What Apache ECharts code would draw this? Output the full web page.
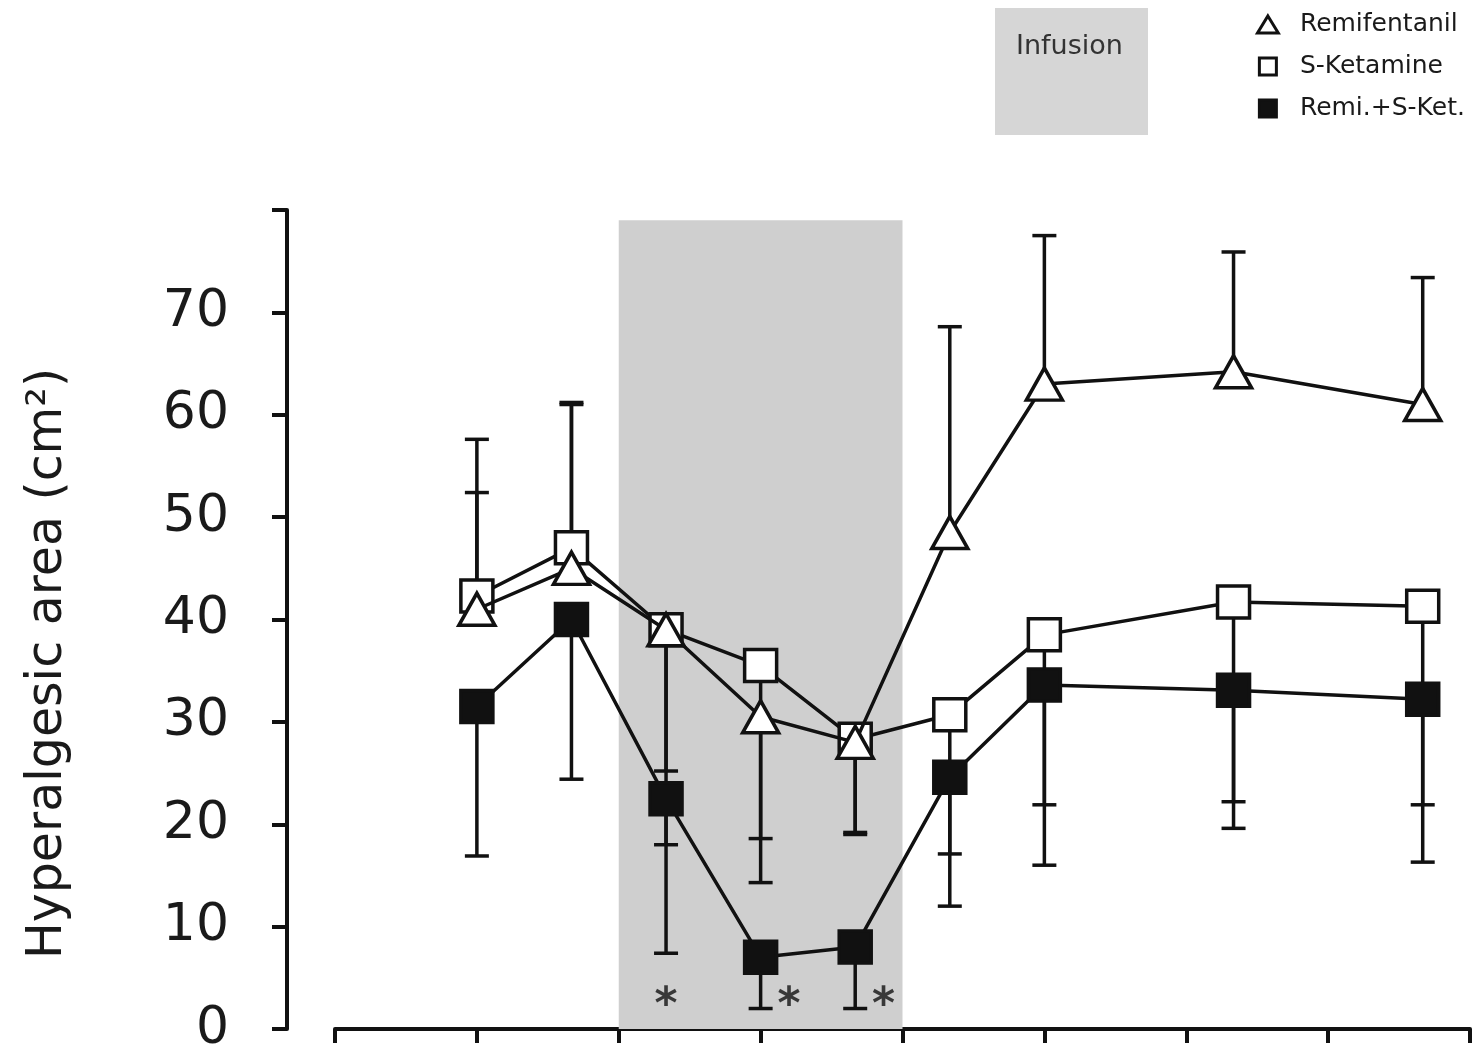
<!DOCTYPE html>
<html>
<head>
<meta charset="utf-8">
<script src="https://cdn.jsdelivr.net/npm/echarts@6/dist/echarts.min.js"></script>
<style>
html,body{margin:0;padding:0;background:#fff;}
#chart{width:1476px;height:1055px;}
</style>
</head>
<body>
<div id="chart"></div>
<script>
// ---- data ----
const times = [0, 20, 40, 60, 80, 100, 120, 160, 200];
const remi = [41, 45, 39, 30.5, 28, 48.5, 63, 64.2, 61];
const sket = [42.3, 47, 39, 35.5, 28.3, 30.7, 38.5, 41.7, 41.3];
const combo = [31.5, 40, 22.5, 7, 8, 24.6, 33.6, 33.1, 32.2];
const remiErrEnd = [57.6, 61.2, 18, 14.3, 19, 68.6, 77.5, 75.9, 73.4];
const sketErrEnd = [52.4, 61, 25.2, 18.6, 19.2, 17.1, 21.9, 22.2, 21.9];
const comboErrEnd = [16.9, 24.4, 7.4, 2, 2, 12, 16, 19.6, 16.3];
const infusionStart = 30, infusionEnd = 90, infusionTop = 79;
const asteriskTimes = [40, 66, 86];
const asteriskLevel = 3;
const yTicks = [0, 10, 20, 30, 40, 50, 60, 70];
const seriesNames = ['Remifentanil', 'S-Ketamine', 'Remi.+S-Ket.'];

const FONT = 'DejaVu Sans';
const chart = echarts.init(document.getElementById('chart'));

function pts(vals) { return times.map((t, i) => [t, vals[i]]); }
function errData(vals, ends) { return times.map((t, i) => [t, vals[i], ends[i]]); }

function errSeries(name, vals, ends) {
  return {
    name: name + ' err',
    type: 'custom',
    z: 1,
    silent: true,
    data: errData(vals, ends),
    renderItem: function (params, api) {
      const x = api.value(0);
      const p0 = api.coord([x, api.value(1)]);
      const p1 = api.coord([x, api.value(2)]);
      const hw = 12;
      const st = { stroke: '#111', lineWidth: 3.5 };
      return {
        type: 'group',
        children: [
          { type: 'line', shape: { x1: p0[0], y1: p0[1], x2: p1[0], y2: p1[1] }, style: st },
          { type: 'line', shape: { x1: p1[0] - hw, y1: p1[1], x2: p1[0] + hw, y2: p1[1] }, style: st }
        ]
      };
    }
  };
}

function lineSeries(name, vals, symbol, size, fill, z) {
  return {
    name: name,
    type: 'line',
    z: z,
    data: pts(vals),
    symbol: symbol,
    symbolSize: size,
    showAllSymbol: true,
    lineStyle: { color: '#111', width: 3.5 },
    itemStyle: { color: fill, borderColor: '#111', borderWidth: 3.5, opacity: 1 },
    emphasis: { disabled: true }
  };
}

const remiLine = lineSeries(seriesNames[0], remi, 'triangle', [36, 32], '#fff', 4);
remiLine.markArea = {
  silent: true,
  itemStyle: { color: '#cfcfcf' },
  data: [[{ xAxis: infusionStart, yAxis: 0 }, { xAxis: infusionEnd, yAxis: infusionTop }]]
};

const triIcon = 'path://M11,0L22,18L0,18Z';
const sqIcon = 'path://M0,0L16,0L16,16L0,16Z';

const option = {
  backgroundColor: '#fff',
  animation: false,
  grid: { left: 335, right: 6, top: 210, bottom: 25, containLabel: false },
  xAxis: {
    type: 'value', min: -30, max: 210, interval: 30,
    axisLine: { lineStyle: { color: '#111', width: 4 } },
    axisTick: { show: true, length: 14, lineStyle: { color: '#111', width: 4 } },
    axisLabel: { show: false },
    splitLine: { show: false }
  },
  yAxis: {
    type: 'value', min: 0, max: 80, interval: 10, offset: 48,
    name: 'Hyperalgesic area (cm²)',
    nameLocation: 'middle', nameGap: 214,
    nameTextStyle: { fontFamily: FONT, fontSize: 49, color: '#1a1a1a', padding: [0, 88, 0, 0] },
    axisLine: { show: true, onZero: false, lineStyle: { color: '#111', width: 4 } },
    axisTick: { show: true, length: 15, lineStyle: { color: '#111', width: 4 } },
    axisLabel: {
      fontFamily: FONT, fontSize: 52, color: '#1a1a1a', margin: 58,
      formatter: v => yTicks.indexOf(v) >= 0 ? String(v) : ''
    },
    splitLine: { show: false }
  },
  legend: {
    data: [
      { name: seriesNames[0], icon: triIcon },
      { name: seriesNames[1], icon: sqIcon },
      { name: seriesNames[2], icon: sqIcon }
    ],
    orient: 'vertical', left: 1251, top: 7,
    itemWidth: 22, itemHeight: 17, itemGap: 17,
    selectedMode: false,
    itemStyle: { borderWidth: 3 },
    textStyle: { fontFamily: FONT, fontSize: 25, color: '#1a1a1a', padding: [0, 0, 0, 16] }
  },
  graphic: [
    { type: 'rect', left: 995, top: 8, shape: { width: 153, height: 127 }, style: { fill: '#d6d6d6' }, z: 0 },
    { type: 'text', left: 1016, top: 33, style: { text: 'Infusion', font: '27px "DejaVu Sans"', fill: '#333' }, z: 1 }
  ],
  series: [
    errSeries('remi', remi, remiErrEnd),
    errSeries('sket', sket, sketErrEnd),
    errSeries('combo', combo, comboErrEnd),
    lineSeries(seriesNames[1], sket, 'rect', 32, '#fff', 3),
    remiLine,
    lineSeries(seriesNames[2], combo, 'rect', 32, '#111', 5),
    {
      name: 'asterisks', type: 'scatter', symbol: 'circle', symbolSize: 4, silent: true, z: 6,
      itemStyle: { color: 'rgba(0,0,0,0)' },
      data: asteriskTimes.map(t => [t, asteriskLevel]),
      label: { show: true, position: 'inside', formatter: '*', fontFamily: FONT, fontSize: 44, fontWeight: 'bold', color: '#111', offset: [0, 8] }
    }
  ]
};
chart.setOption(option);
</script>
</body>
</html>
